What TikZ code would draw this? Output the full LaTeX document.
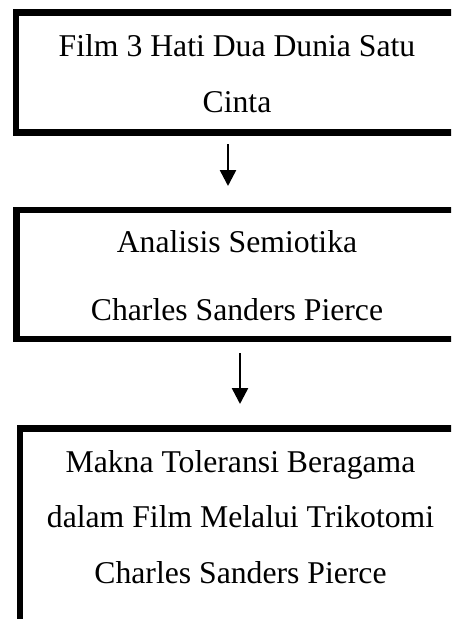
\documentclass[tikz,border=0pt]{standalone}
\usepackage{fontspec}
\setmainfont{Liberation Serif}
\usetikzlibrary{arrows.meta}
\begin{document}
\begin{tikzpicture}[x=1pt,y=-1pt,
  boxframe/.style={draw=black, line width=6.5pt, rectangle, inner sep=0pt, outer sep=0pt},
  txt/.style={anchor=base, inner sep=0pt, font=\fontsize{31.7}{38}\selectfont},
  flow/.style={line width=2.5pt, -{Triangle[width=16pt,length=16pt]}}
]
\useasboundingbox (0,0) rectangle (451,619);
\clip (0,0) rectangle (451,619);
% box 1
\node[boxframe, minimum width=442pt, minimum height=120pt] (b1) at (237,72.5) {};
\node[txt] (t1a) at (237,56) {Film 3 Hati Dua Dunia Satu};
\node[txt] (t1b) at (237,112) {Cinta};
% box 2
\node[boxframe, minimum width=441pt, minimum height=129pt] (b2) at (237,274.5) {};
\node[txt] (t2a) at (237,252) {Analisis Semiotika};
\node[txt] (t2b) at (237,320) {Charles Sanders Pierce};
% box 3
\node[boxframe, minimum width=441pt, minimum height=300pt] (b3) at (240.5,578.5) {};
\node[txt] (t3a) at (240.5,472) {Makna Toleransi Beragama};
\node[txt] (t3b) at (240.5,527) {dalam Film Melalui Trikotomi};
\node[txt] (t3c) at (240.5,583) {Charles Sanders Pierce};
% arrows
\coordinate (a1s) at ([xshift=-9pt,yshift=-11.5pt]b1.south);
\coordinate (a1e) at ([xshift=-9pt,yshift=24pt]b2.north);
\draw[flow] (a1s) -- (a1e);
\coordinate (a2s) at ([xshift=3pt,yshift=-14pt]b2.south);
\coordinate (a2e) at ([xshift=-0.5pt,yshift=24.5pt]b3.north);
\draw[flow] (a2s) -- (a2e);
\end{tikzpicture}
\end{document}
